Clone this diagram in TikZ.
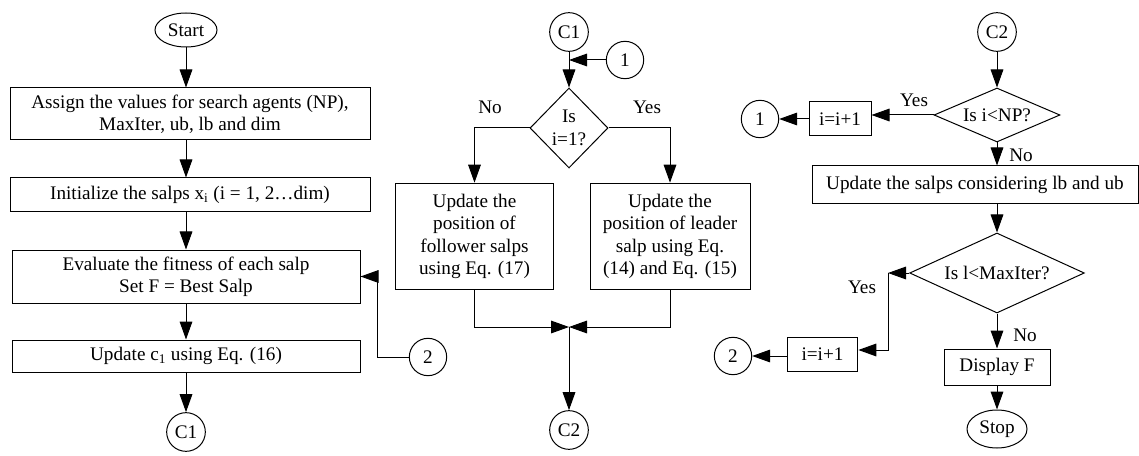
\documentclass[tikz,border=0pt]{standalone}
\usepackage{fontspec}
\setmainfont{Liberation Serif}
\usetikzlibrary{shapes.geometric,arrows.meta}

\tikzset{every picture/.style={line width=0.75pt}}
\tikzset{
  every node/.style={font=\fontsize{14.4}{16.8}\selectfont},
  procbox/.style={draw, rectangle, align=center, inner sep=1pt},
  termnode/.style={draw, ellipse, inner sep=0pt},
  connnode/.style={draw, circle, inner sep=0pt, minimum size=28pt},
  decnode/.style={draw, diamond, align=center, inner sep=0pt},
  flow/.style={-{Triangle[length=13.5pt,width=9.5pt]}},
}

\begin{document}
\begin{tikzpicture}[x=0.75pt,y=0.75pt,yscale=-1,xscale=1]
\useasboundingbox (0,0) rectangle (1139,456);

%Left column
\node[termnode, minimum width=46.5pt, minimum height=25.5pt] (start) at (186,30) {Start};
\node[procbox, minimum width=270pt, minimum height=39pt] (assign) at (190,114) {Assign the values for search agents (NP),\\MaxIter, ub, lb and dim};
\node[procbox, minimum width=270pt, minimum height=25.5pt] (init) at (190,195) {Initialize the salps x\textsubscript{i} (i = 1, 2…dim)};
\node[procbox, minimum width=261pt, minimum height=39.75pt] (eval) at (186,276.5) {Evaluate the fitness of each salp\\Set F = Best Salp};
\node[procbox, minimum width=261pt, minimum height=24pt] (updc) at (186,356) {Update c\textsubscript{1} using Eq. (16)};
\node[connnode, minimum size=29pt] (conna) at (186,432) {C1};
\node[connnode] (twoa) at (428,357) {2};
\coordinate (loopa) at (377,357);

\draw[flow] (start.south) -- (start.south |- assign.north);
\draw[flow] (start.south |- assign.south) -- (start.south |- init.north);
\draw[flow] (start.south |- init.south) -- (start.south |- eval.north);
\draw[flow] (eval.south) -- (updc.north);
\draw[flow] (updc.south) -- (conna.north);
\draw[flow] (twoa.west) -- (loopa) |- (eval.east);

%Middle column
\node[connnode, minimum size=29pt] (connb) at (569,32) {C1};
\node[connnode] (oneb) at (625,60) {1};
\node[decnode, minimum width=58.5pt, minimum height=60pt] (isone) at (569,128) {Is\\i=1?};
\node (nob) at (490,107) {No};
\node (yesb) at (647,107) {Yes};
\node[procbox, minimum width=119pt, minimum height=80pt] (follow) at (474.5,236.5) {Update the\\position of\\follower salps\\using Eq. (17)};
\node[procbox, minimum width=120pt, minimum height=80pt] (lead) at (670,236.5) {Update the\\position of leader\\salp using Eq.\\(14) and Eq. (15)};
\coordinate (merge) at (569,327);
\node[connnode, minimum size=29pt] (conc) at (569,430) {C2};

\draw[flow] (connb.south) -- (isone.north);
\draw[flow] (oneb.west) -- (oneb.west -| connb.south);
\draw[flow] (isone.west) -| (follow.north);
\draw[flow] (isone.east) -| (lead.north);
\draw[flow] (follow.south) |- (merge);
\draw[flow] (lead.south) |- (merge);
\draw[flow] (merge) -- (conc.north);

%Right column
\node[connnode, minimum size=29pt] (cond) at (997,32) {C2};
\node[decnode, minimum width=94.5pt, minimum height=40.5pt, aspect=2.33] (isnp) at (997,115) {Is i<NP?};
\node (yesc) at (914,100) {Yes};
\node (noc) at (1021,155) {No};
\node[procbox, minimum width=46.5pt, minimum height=25.5pt] (inca) at (840,119) {i=i+1};
\node[connnode] (onec) at (760,119) {1};
\node[procbox, minimum width=244.5pt, minimum height=28.5pt] (updsalp) at (975,185) {Update the salps considering lb and ub};
\node[decnode, minimum width=131pt, minimum height=60pt, aspect=2.19] (ismax) at (997,273) {Is l<MaxIter?};
\node (yesd) at (862,287) {Yes};
\node (nod) at (1025,335) {No};
\coordinate (yestop) at (888,273);
\coordinate (yesbot) at (888,350);
\node[procbox, minimum width=53pt, minimum height=26pt] (incb) at (822.5,354.5) {i=i+1};
\node[connnode] (twoc) at (733,356) {2};
\node[procbox, minimum width=79.5pt, minimum height=27pt] (disp) at (997,367) {Display F};
\node[termnode, minimum width=45pt, minimum height=28.5pt] (stop) at (997,429) {Stop};

\draw[flow] (cond.south) -- (isnp.north);
\draw[flow] (isnp.west) -- (isnp.west -| inca.east);
\draw[flow] (inca.west) -- (onec.east);
\draw[flow] (isnp.south) -- (isnp.south |- updsalp.north);
\draw[flow] (isnp.south |- updsalp.south) -- (ismax.north);
\draw[flow] (ismax.west) -- (yestop);
\draw[flow] (yestop) -- (yesbot) -- (yesbot -| incb.east);
\draw[flow] (incb.west |- twoc) -- (twoc.east);
\draw[flow] (ismax.south) -- (disp.north);
\draw[flow] (disp.south) -- (stop.north);

\end{tikzpicture}
\end{document}
